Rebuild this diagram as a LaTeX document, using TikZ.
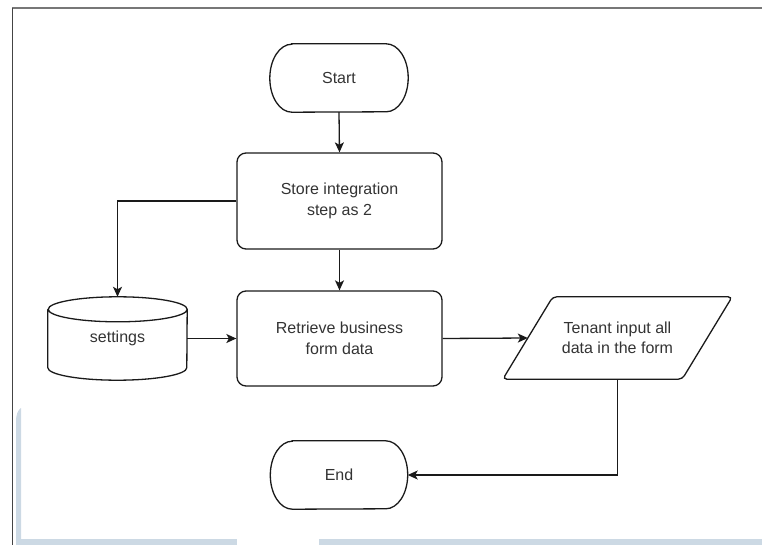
\documentclass[tikz,border=0pt]{standalone}
\usepackage{fontspec}
\setmainfont{Liberation Sans}
\usetikzlibrary{arrows.meta,calc}
\definecolor{ink}{HTML}{1A1A1A}
\definecolor{txt}{HTML}{333333}
\definecolor{frametop}{HTML}{777777}
\definecolor{frameleft}{HTML}{444444}
\definecolor{stripe}{HTML}{CCD9E4}
% stadium-like terminal: flat top and bottom, elliptic ends
\newcommand\drawterminal[1]{%
  \draw[outline] ([xshift=22pt]#1.north west) -- ([xshift=-22pt]#1.north east)
    arc[start angle=90,end angle=-90,x radius=22pt,y radius=34pt]
    -- ([xshift=22pt]#1.south west)
    arc[start angle=270,end angle=90,x radius=22pt,y radius=34pt] -- cycle;}
\begin{document}
\begin{tikzpicture}[x=1pt,y=1pt,
  outline/.style={draw=ink,line width=1.3pt},
  label/.style={text=txt,align=center,font=\fontsize{16}{20.5}\selectfont},
  box/.style={outline,label,rounded corners=9pt,minimum width=205pt,minimum height=96pt,inner sep=0pt},
  holder/.style={label,inner sep=0pt},
  flow/.style={draw=ink,line width=1.3pt,-{Stealth[length=10pt,width=9pt,inset=2.5pt]}},
]
\useasboundingbox (0,0) rectangle (762,-545);

% page frame and tinted edge
\draw[frametop,line width=2pt] (12,-8) -- (762,-8);
\draw[frameleft,line width=1.2pt] (12.5,-8) -- (12.5,-545);
\fill[stripe] (20,-539) rectangle (237,-545);
\fill[stripe] (319,-539) rectangle (762,-545);
\fill[stripe] (16,-545) -- (16,-422) .. controls (16,-414) and (18,-410) .. (21,-408) -- (21,-545) -- cycle;

% nodes
\node[holder,minimum width=138pt,minimum height=68pt] (start) at (339,-78) {Start};
\drawterminal{start}
\node[box] (store) at (339.5,-201) {Store integration\\step as 2};
\node[box,minimum height=95pt] (retrieve) at (339.5,-338.5) {Retrieve business\\form data};

\node[holder,minimum width=139pt,minimum height=83pt] (settings) at (117.5,-338.5) {settings};
\draw[outline] ([yshift=-12.5pt]settings.north west) -- ([yshift=12.5pt]settings.south west)
  arc[start angle=180,end angle=360,x radius=69.5pt,y radius=12.5pt]
  -- ([yshift=-12.5pt]settings.north east)
  arc[start angle=0,end angle=180,x radius=69.5pt,y radius=12.5pt]
  arc[start angle=180,end angle=360,x radius=69.5pt,y radius=12.5pt];

\node[holder,minimum width=229pt,minimum height=82pt] (tenant) at (617.5,-338) {Tenant input all\\data in the form};
\draw[outline,rounded corners=4pt] ([xshift=50pt]tenant.north west) -- (tenant.north east)
  -- ([xshift=-50pt]tenant.south east) -- (tenant.south west) -- cycle;
\coordinate (tenantin) at ($(tenant.west)+(25pt,0)$);

\node[holder,minimum width=137pt,minimum height=68pt] (end) at (339,-475) {End};
\drawterminal{end}

% connectors
\draw[flow] (start.south) -- (store.north);
\draw[flow] (store.west) -| (settings.north);
\draw[flow] (store.south) -- (retrieve.north);
\draw[flow] (settings.east) -- (retrieve.west);
\draw[flow] (retrieve.east) -- (tenantin);
\draw[flow] (tenant.south) |- (end.east);
\end{tikzpicture}
\end{document}
